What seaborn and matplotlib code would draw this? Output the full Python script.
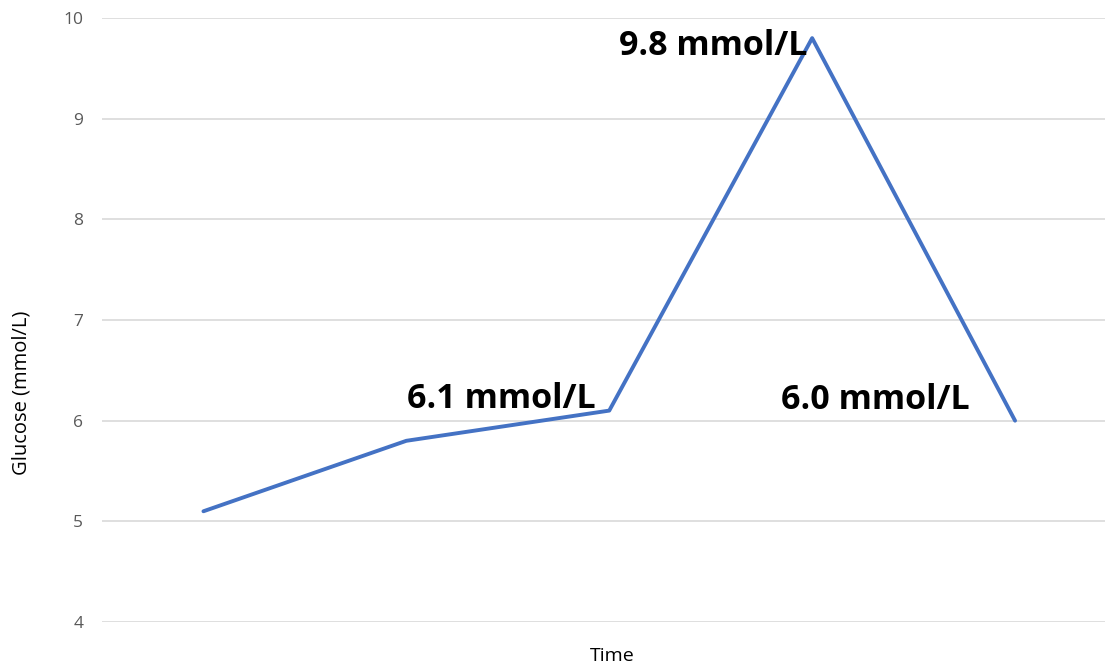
import matplotlib
matplotlib.use("Agg")
import matplotlib.pyplot as plt
import seaborn as sns
import pandas as pd

# Glucose readings at successive time points
time_points = [0, 1, 2, 3, 4]
glucose = [5.1, 5.8, 6.1, 9.8, 6.0]

# Annotated readings: (index, text, pixel offset of the text's right/baseline corner)
label_idx = [2, 3, 4]
label_text = ["6.1 mmol/L", "9.8 mmol/L", "6.0 mmol/L"]
label_offsets = [(-14, 3), (-5, -17), (-45, 12)]

y_ticks = [4, 5, 6, 7, 8, 9, 10]

sns.set_theme(style="white")
plt.rcParams["font.family"] = ["Open Sans", "DejaVu Sans"]

fig = plt.figure(figsize=(11.05, 6.66), dpi=100)
W, H = 1105, 666
ax = fig.add_axes([102 / W, (H - 622) / H, 1014.5 / W, 604 / H])

df = pd.DataFrame({"t": time_points, "g": glucose})
sns.lineplot(data=df, x="t", y="g", ax=ax, color="#4472C4", linewidth=2.8)

ax.set_xlim(-0.5, 4.5)
ax.set_ylim(4, 10)
ax.set_yticks(y_ticks)
ax.set_yticklabels([str(v) for v in y_ticks], color="#595959", fontsize=12.5)
ax.set_xticks([])
ax.tick_params(axis="y", length=0, pad=13.5)
ax.grid(axis="y", color="#D9D9D9", linewidth=1.2)
ax.set_axisbelow(True)
for s in ax.spines.values():
    s.set_visible(False)

ax.set_xlabel("")
ax.set_ylabel("")
fig.text(612 / W, 1 - 656 / H, "Time", ha="center", va="center",
         fontsize=14, color="#000000")
fig.text(22 / W, 1 - 393 / H, "Glucose (mmol/L)", ha="center", va="center",
         rotation=90, fontsize=14.5, color="#000000")

for i, txt, off in zip(label_idx, label_text, label_offsets):
    ax.annotate(txt, xy=(time_points[i], glucose[i]), xytext=off,
                textcoords="offset pixels", ha="right", va="baseline",
                fontsize=24.5, fontweight="bold", color="#000000")

fig.savefig("out.png", dpi=100)
